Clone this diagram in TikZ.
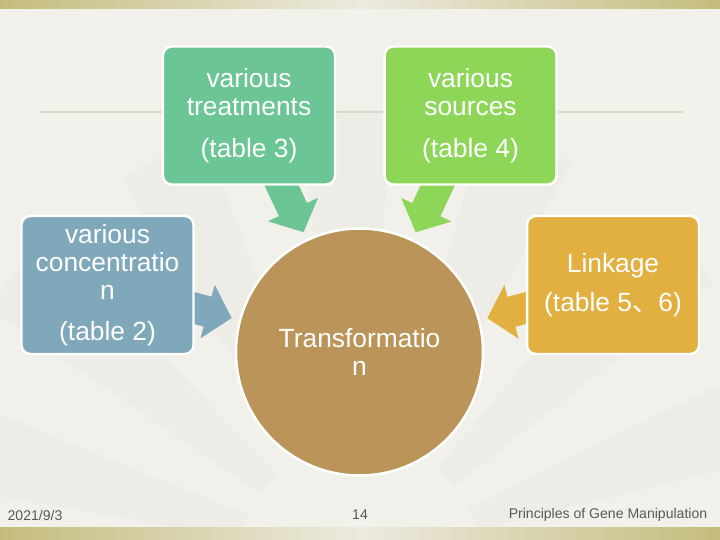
\documentclass[tikz,border=0pt]{standalone}
\usepackage{fontspec}
\setmainfont{Liberation Sans}
\newfontfamily\cjk{Noto Sans CJK SC}
\usepackage{tikz}
\usetikzlibrary{positioning, arrows.meta, backgrounds, calc}
\definecolor{mygreen}{HTML}{6CC594}
\definecolor{mylime}{HTML}{8ED658}
\definecolor{myblue}{HTML}{7FA8BA}
\definecolor{myorange}{HTML}{E2B040}
\definecolor{mybrown}{HTML}{BA9458}
\definecolor{mybg}{HTML}{F1F0EA}
\definecolor{myband}{HTML}{C4BC7C}
\definecolor{mybandlight}{HTML}{ECEADF}
\definecolor{myrule}{HTML}{DCD9C6}
\definecolor{myfoot}{HTML}{595959}

\begin{document}
\begin{tikzpicture}[
  x=0.02cm, y=-0.02cm,
  font=\fontsize{15}{16}\selectfont,
  box/.style={rectangle, rounded corners=5pt, draw=white, line width=1.4pt, text=white,
    minimum width=3.44cm, minimum height=2.76cm, align=center, inner sep=2pt},
  hub/.style={circle, draw=white, line width=1.4pt, fill=mybrown, text=white,
    minimum size=4.94cm, align=center},
  arr/.style={line width=0.62cm, -{Triangle[length=0.5cm, width=1.08cm]},
    shorten <=-0.4cm, shorten >=0.15cm},
  wedge/.style={fill=black, opacity=0.015},
  foot/.style={text=myfoot, font=\fontsize{8}{9}\selectfont}
]
\useasboundingbox (0,0) rectangle (720,540);
\begin{pgfonlayer}{background}
\fill[mybg] (0,0) rectangle (720,540);
\foreach \a in {-170,-146,...,-20}
  \fill[wedge] (360,560) ++(\a:120) -- ++(\a:330) arc[start angle=\a, end angle=\a+12, radius=450]
    -- ($(360,560)+(\a+12:120)$) -- cycle;
\shade[left color=myband, right color=myband, middle color=mybandlight] (0,0) rectangle (720,9);
\shade[left color=myband, right color=myband, middle color=mybandlight] (0,527) rectangle (720,540);
\draw[myrule, line width=1pt] (40,112) -- (683,112);
\end{pgfonlayer}

\node[box, fill=mygreen] (treat) at (249,115.5) {various\\treatments\\[8pt](table 3)};
\node[box, fill=mylime] (source) at (470.5,115.5) {various\\sources\\[8pt](table 4)};
\node[box, fill=myblue] (conc) at (107.5,285) {various\\concentratio\\n\\[7pt](table 2)};
\node[box, fill=myorange] (link) at (613,285) {Linkage\\[6pt](table 5{\cjk 、}6)};
\node[hub] (trans) at (359.5,352) {Transformatio\\n};

\node[foot] (date) at (35,515) {2021/9/3};
\node[foot] (page) at (360,515) {14};
\node[foot] (title) at (608,515) {Principles of Gene Manipulation};

\begin{pgfonlayer}{background}
\draw[arr, mygreen] (treat) -- (trans);
\draw[arr, mylime] (source) -- (trans);
\draw[arr, myblue] (conc) -- (trans);
\draw[arr, myorange] (link) -- (trans);
\end{pgfonlayer}
\end{tikzpicture}
\end{document}
